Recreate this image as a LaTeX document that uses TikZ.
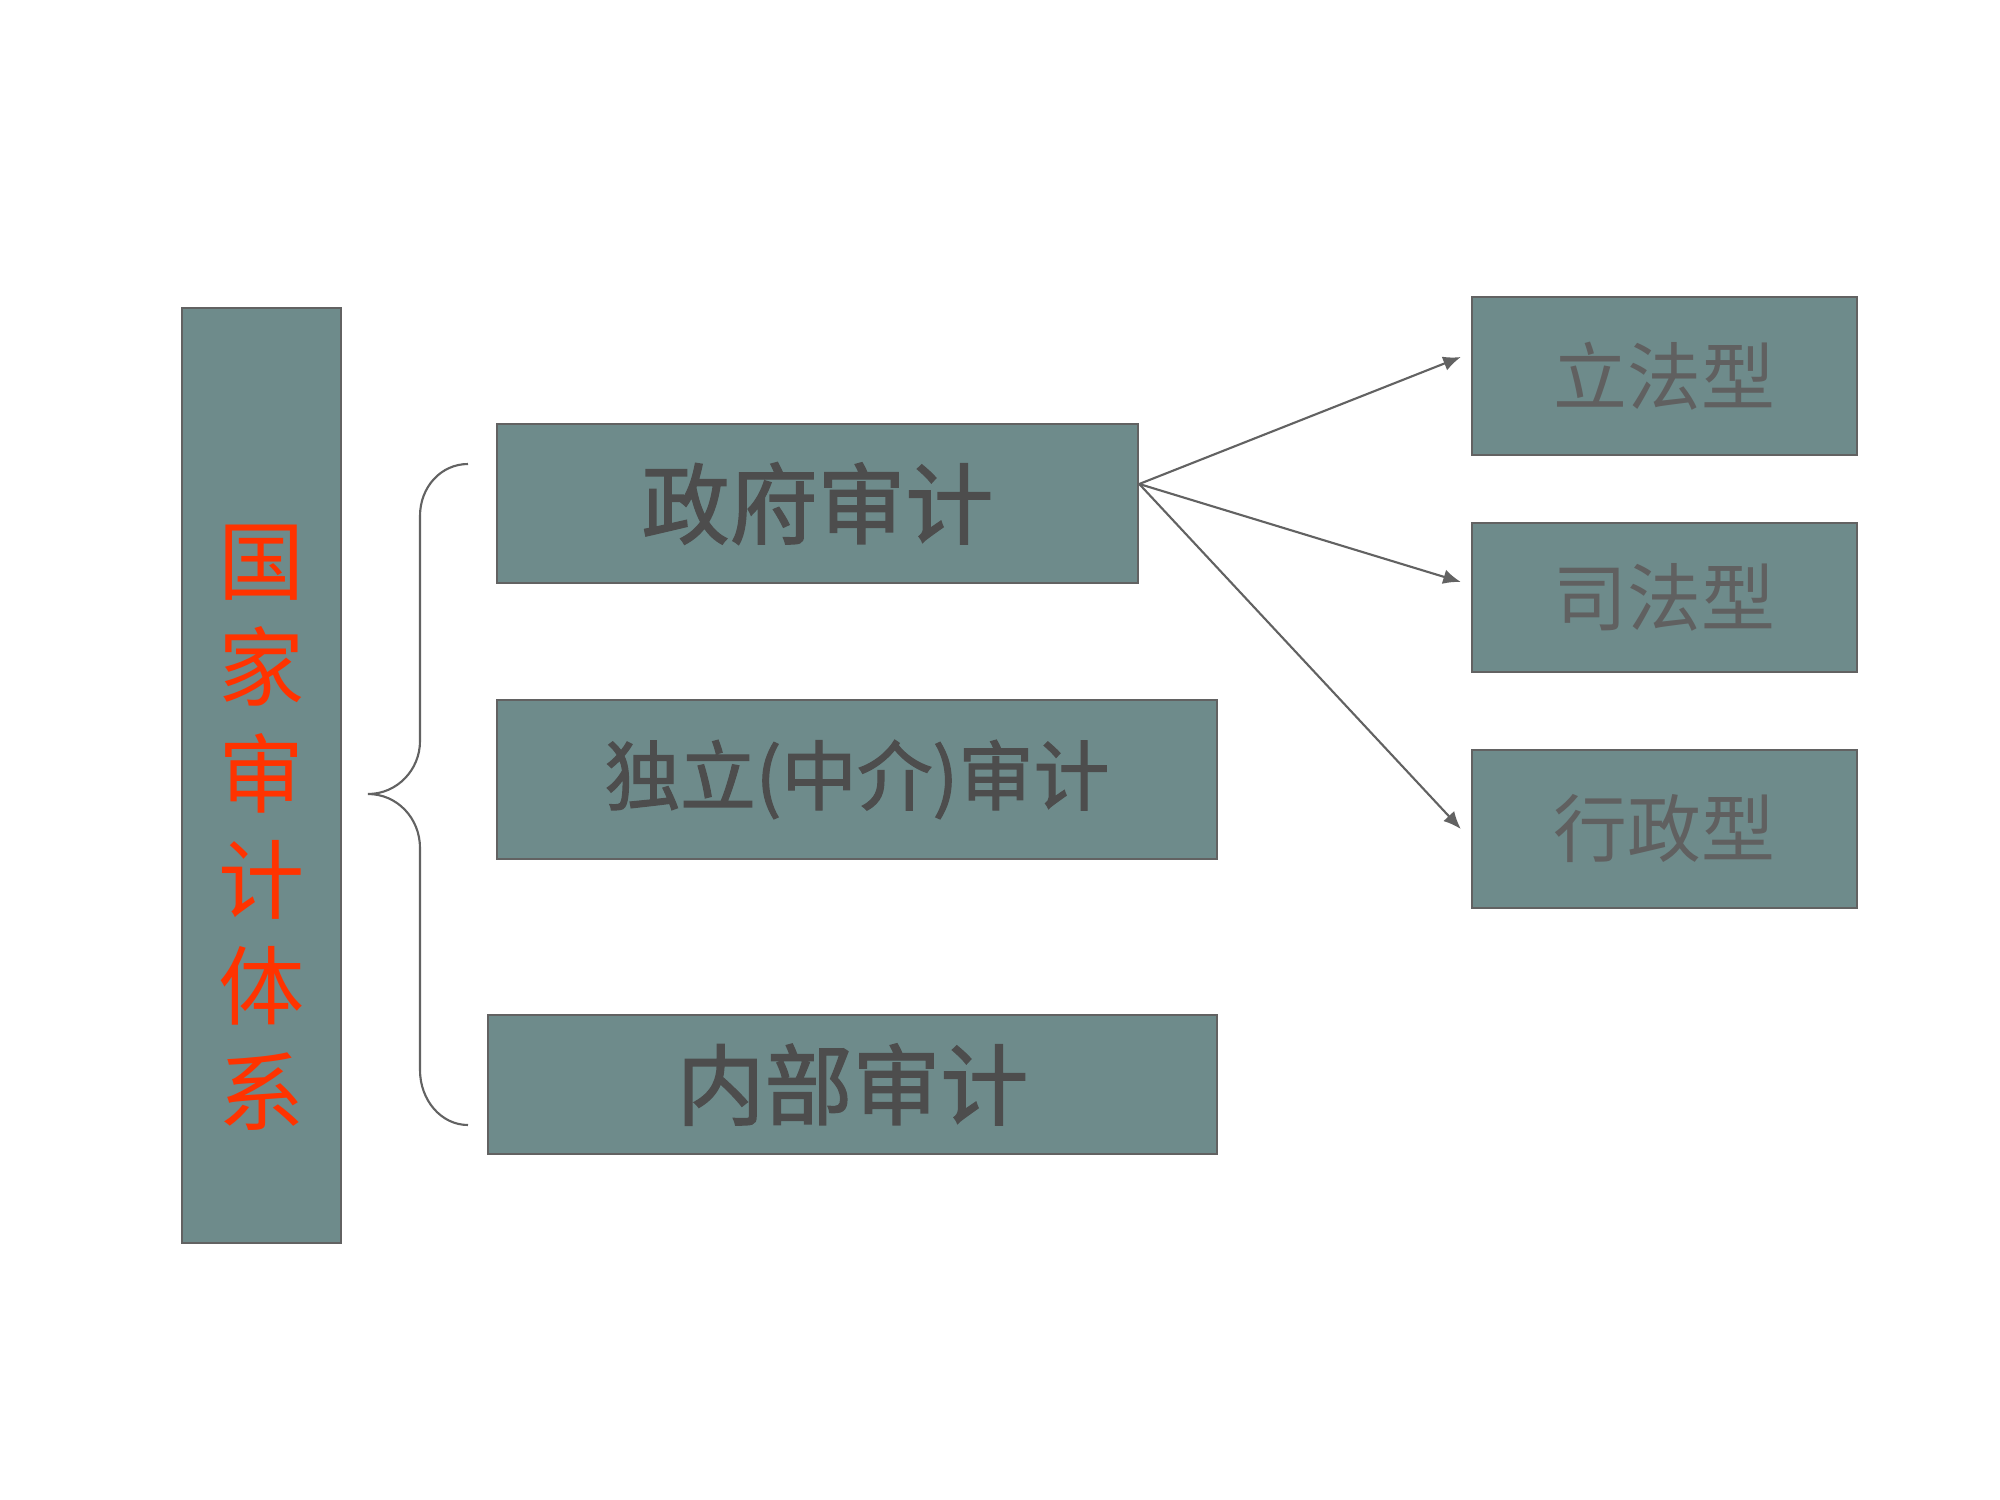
\documentclass[tikz,border=0pt]{standalone}
\usepackage{fontspec}
\newfontfamily\cjk{Noto Sans CJK SC}
\newfontfamily\cjkbold{Noto Sans CJK SC}[FakeBold=1.6]
\usetikzlibrary{positioning, arrows.meta}
\definecolor{boxfill}{RGB}{110,139,139}
\definecolor{boxline}{RGB}{98,98,98}
\definecolor{maintext}{RGB}{77,77,77}
\definecolor{subtext}{RGB}{96,96,96}
\definecolor{redtext}{RGB}{255,51,0}
\tikzset{block/.style={draw=boxline, fill=boxfill, line width=0.6pt, rectangle, inner sep=0pt},
         bigtext/.style={font=\cjkbold\fontsize{25pt}{30pt}\selectfont, text=maintext},
         smalltext/.style={font=\cjk\fontsize{21pt}{25pt}\selectfont, text=subtext},
         >={Latex[length=5pt,width=4.2pt]}}
\begin{document}
\begin{tikzpicture}[x=0.01cm, y=-0.01cm]
        \useasboundingbox[fill=white] (0,0) rectangle (2000,1500);

        % left column
        \node[block, minimum width=1.59cm, minimum height=9.35cm] (system) at (261.5,775.5) {};
        \node[font=\cjk\fontsize{24.5pt}{30.2pt}\selectfont, text=redtext, align=center] (systemtext) at (261.5,828) {国\\家\\审\\计\\体\\系};

        % middle column
        \node[block, bigtext, minimum width=6.41cm, minimum height=1.59cm] (gov) at (817.5,503.5) {政府审计};
        \node[block, bigtext, font=\cjkbold\fontsize{21.5pt}{26pt}\selectfont, minimum width=7.2cm, minimum height=1.59cm] (indep) at (857,779.5) {独立(中介)审计};
        \node[block, bigtext, minimum width=7.29cm, minimum height=1.39cm] (inner) at (852.5,1084.5) {内部审计};

        % right column
        \node[block, smalltext, minimum width=3.85cm, minimum height=1.58cm] (legis) at (1664.5,376) {立法型};
        \node[block, smalltext, minimum width=3.85cm, minimum height=1.49cm] (judic) at (1664.5,597.5) {司法型};
        \node[block, smalltext, minimum width=3.85cm, minimum height=1.58cm] (admin) at (1664.5,829) {行政型};

        % brace
        \coordinate (bracetop) at (468,464);
        \coordinate (bracetip) at (368,794);
        \coordinate (bracebot) at (468,1125);
        \draw[boxline, line width=0.6pt] (bracetop) .. controls (441,464) and (420,487) .. (420,516)
            -- (420,741) .. controls (420,770) and (397,794) .. (bracetip)
            .. controls (397,794) and (420,818) .. (420,848)
            -- (420,1070) .. controls (420,1100) and (441,1125) .. (bracebot);

        % arrows
        \coordinate (govout) at ([yshift=1.95mm]gov.east);
        \draw[->, boxline, line width=0.6pt] (govout) -- ([xshift=-1mm, yshift=1.9mm]legis.west);
        \draw[->, boxline, line width=0.6pt] (govout) -- ([xshift=-1mm, yshift=1.55mm]judic.west);
        \draw[->, boxline, line width=0.6pt] (govout) -- ([xshift=-1mm]admin.west);
    \end{tikzpicture}
\end{document}
